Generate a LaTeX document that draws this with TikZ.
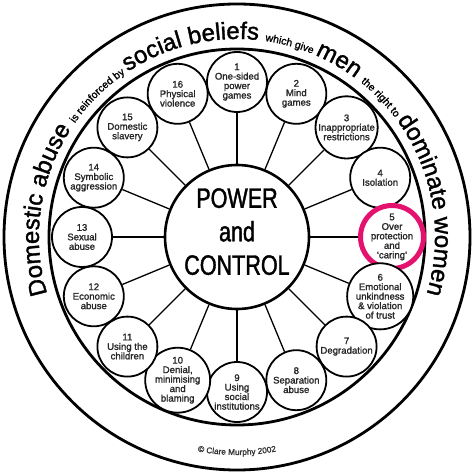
\documentclass[tikz,border=0pt]{standalone}
\usepackage{fontspec}
\setmainfont{Liberation Sans}[FakeBold=1.4]
\newfontfamily\narrowfont{Liberation Sans}[FakeStretch=0.77,FakeBold=1.4]
\usetikzlibrary{positioning,decorations.text}
\definecolor{ringpink}{RGB}{228,18,110}
\newcommand{\bigword}{\fontsize{24}{24}\selectfont}
\newcommand{\smallword}{\fontsize{10.5}{10.5}\selectfont}

\begin{document}
\begin{tikzpicture}[x=1pt,y=1pt]

\tikzstyle{tactic}=[circle,draw=black,line width=1.8pt,fill=white,minimum size=60pt,inner sep=0pt,align=center,text=black!85,font=\fontsize{9.6}{9.5}\selectfont]
\tikzstyle{hub}=[circle,draw=black,line width=2.6pt,fill=white,minimum size=144pt,inner sep=0pt,align=center,font=\narrowfont\fontsize{28}{33.5}\selectfont]
\tikzstyle{spoke}=[line width=1.3pt]

\useasboundingbox (-237pt,-239pt) rectangle (237pt,237pt);

\draw [line width=2.8pt] (0,0) circle (233pt);
\draw [line width=2.8pt] (0,0) circle (188pt);

\node [hub] (P) at (0,0) {POWER\\and\\CONTROL\rule[-11pt]{0pt}{0pt}};

\node [tactic] (T1) at (90:155pt) {1\\One-sided\\power\\games};
\node [tactic] (T2) at (67.5:155pt) {2\\Mind\\games};
\node [tactic] (T3) at (45:155pt) {3\\Inappropriate\\restrictions};
\node [tactic] (T4) at (22.5:155pt) {4\\Isolation};
\node [tactic,draw=ringpink,line width=5pt,minimum size=63pt] (T5) at (0:155pt) {5\\Over\\protection\\and\\`caring'};
\node [tactic] (T6) at (-22.5:155pt) {6\\Emotional\\unkindness\\\& violation\\of trust};
\node [tactic] (T7) at (-45:155pt) {7\\Degradation};
\node [tactic] (T8) at (-67.5:155pt) {8\\Separation\\abuse};
\node [tactic] (T9) at (-90:155pt) {9\\Using\\social\\institutions};
\node [tactic] (T10) at (-112.5:155pt) {10\\Denial,\\minimising\\and\\blaming};
\node [tactic] (T11) at (-135:155pt) {11\\Using the\\children};
\node [tactic] (T12) at (-157.5:155pt) {12\\Economic\\abuse};
\node [tactic] (T13) at (180:155pt) {13\\Sexual\\abuse};
\node [tactic] (T14) at (157.5:155pt) {14\\Symbolic\\aggression};
\node [tactic] (T15) at (135:155pt) {15\\Domestic\\slavery};
\node [tactic] (T16) at (112.5:155pt) {16\\Physical\\violence};

\path [spoke] (P) edge (T1)
      (P) edge (T2)
      (P) edge (T3)
      (P) edge (T4)
      (P) edge (T5)
      (P) edge (T6)
      (P) edge (T7)
      (P) edge (T8)
      (P) edge (T9)
      (P) edge (T10)
      (P) edge (T11)
      (P) edge (T12)
      (P) edge (T13)
      (P) edge (T14)
      (P) edge (T15)
      (P) edge (T16);

% words round the band
\path [decorate,decoration={text along path,text align=center,
  text={|\bigword|Domestic abuse |\smallword|is reinforced by |\bigword|social beliefs |\smallword|which give |\bigword|men |\smallword|the right to |\bigword|dominate women}}]
  (200:198pt) arc [start angle=200,end angle=-20,radius=198pt];

\path [decorate,decoration={text along path,text align=center,
  text={|\fontsize{8.3}{8.3}\selectfont\color{black!80}|© Clare Murphy 2002}}]
  (250:218pt) arc [start angle=250,end angle=290,radius=218pt];

\end{tikzpicture}
\end{document}
